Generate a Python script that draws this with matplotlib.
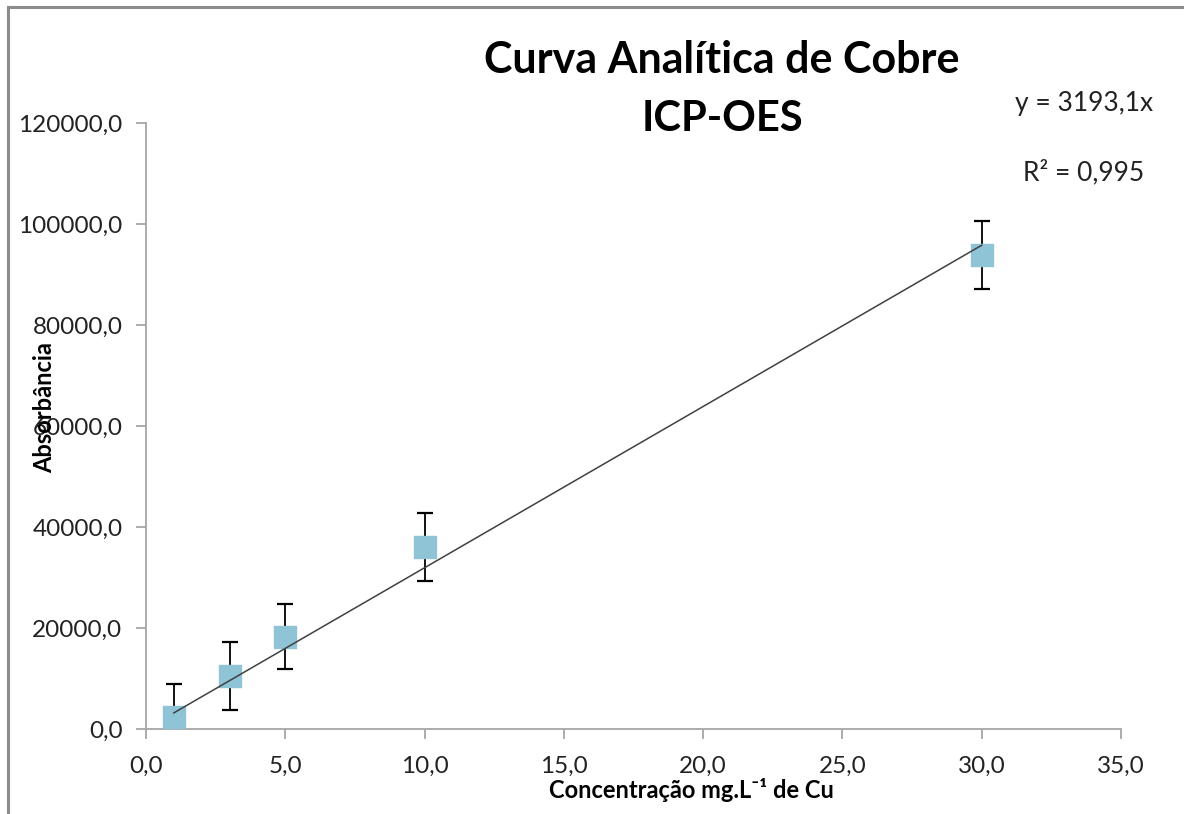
import matplotlib
matplotlib.use("Agg")
import matplotlib.pyplot as plt
from matplotlib.lines import Line2D
from matplotlib.ticker import FuncFormatter, MultipleLocator
import numpy as np

# Calibration data for copper (ICP-OES)
concentracao = [1.0, 3.0, 5.0, 10.0, 30.0]
absorbancia = [2300.0, 10500.0, 18300.0, 36000.0, 93900.0]
erro = [6700.0, 6700.0, 6500.0, 6700.0, 6700.0]

# Linear fit through the origin
inclinacao = 3193.1
r2 = 0.995

plt.rcParams['font.family'] = ['Lato', 'DejaVu Sans']

fig = plt.figure(figsize=(11.84, 8.14), dpi=100)
ax = fig.add_axes([146 / 1184, 1 - 729 / 814, (1121 - 146) / 1184, (729 - 123) / 814])

grey = '#a6a6a6'
ax.errorbar(concentracao, absorbancia, yerr=erro, fmt='none', ecolor='black',
            elinewidth=1.3, capsize=6, capthick=1.6, zorder=2)
ax.plot(concentracao, absorbancia, linestyle='none', marker='s', markersize=15.5,
        color='#8fc3d6', zorder=3)

xfit = np.array([min(concentracao), max(concentracao)])
ax.plot(xfit, inclinacao * xfit, color='#404040', linewidth=1.1, zorder=4)

ax.set_xlim(0, 35)
ax.set_ylim(0, 120000)
ax.xaxis.set_major_locator(MultipleLocator(5))
ax.yaxis.set_major_locator(MultipleLocator(20000))
fmt = FuncFormatter(lambda v, p: f"{v:.1f}".replace('.', ','))
ax.xaxis.set_major_formatter(fmt)
ax.yaxis.set_major_formatter(fmt)

for s in ['top', 'right']:
    ax.spines[s].set_visible(False)
for s in ['left', 'bottom']:
    ax.spines[s].set_color(grey)
    ax.spines[s].set_linewidth(1.3)
ax.tick_params(axis='both', direction='out', length=7, width=1.3, color=grey,
               labelsize=17.5, labelcolor='#222222')
ax.tick_params(axis='y', pad=10)
ax.tick_params(axis='x', pad=12)

fig.text(691 / 1184, 1 - 790 / 814, 'Concentração mg.L⁻¹ de Cu', fontsize=17,
         fontweight='bold', ha='center', va='center')
fig.text(45 / 1184, 1 - 408 / 814, 'Absorbância', rotation=90, fontsize=17,
         fontweight='bold', ha='center', va='center')

fig.text(722 / 1184, 1 - 60 / 814, 'Curva Analítica de Cobre', fontsize=31,
         fontweight='bold', ha='center', va='center')
fig.text(722 / 1184, 1 - 119 / 814, 'ICP-OES', fontsize=30,
         fontweight='bold', ha='center', va='center')

fig.text(1084 / 1184, 1 - 104 / 814, f'y = {inclinacao:.1f}x'.replace('.', ','),
         fontsize=19, ha='center', va='center', color='#222222')
fig.text(1084 / 1184, 1 - 172 / 814, f'R² = {r2:.3f}'.replace('.', ','),
         fontsize=19, ha='center', va='center', color='#222222')

# Outer chart frame (left and top edges)
fig.add_artist(Line2D([8 / 1184, 8 / 1184], [0, 1 - 7 / 814], color='#8c8c8c',
                      linewidth=2.2, transform=fig.transFigure))
fig.add_artist(Line2D([8 / 1184, 1], [1 - 7 / 814, 1 - 7 / 814], color='#8c8c8c',
                      linewidth=2.2, transform=fig.transFigure))

fig.savefig('out.png', dpi=100)
